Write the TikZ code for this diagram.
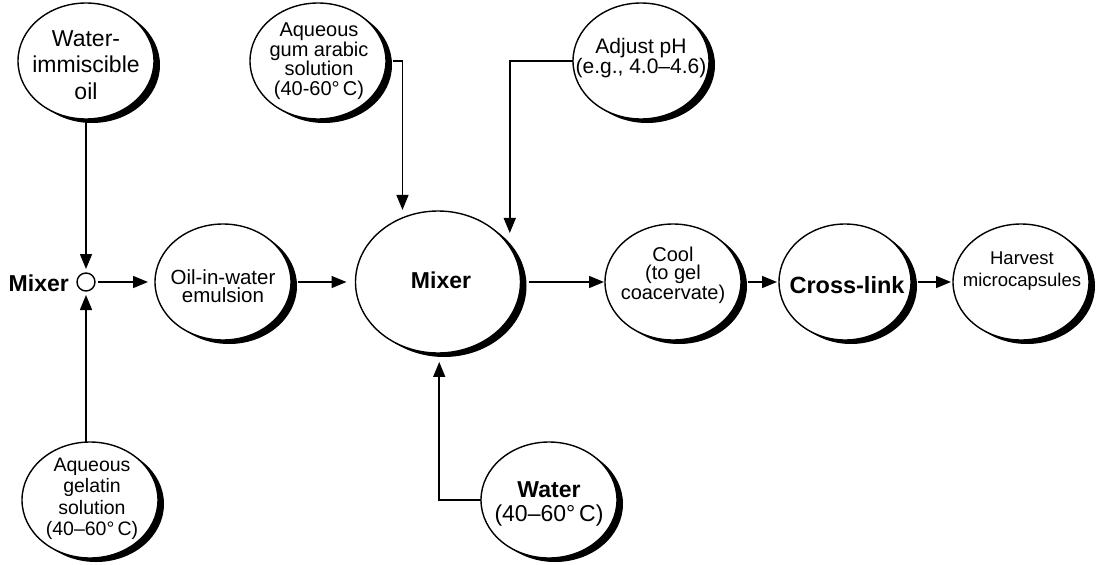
\documentclass[tikz,border=0pt]{standalone}
\usepackage{fontspec}
\setmainfont{Liberation Sans}
\usetikzlibrary{shapes.geometric,arrows.meta,shadows}
\begin{document}
\begin{tikzpicture}[x=1pt,y=-1pt,
  bub/.style={ellipse, draw, line width=1.4pt, fill=white, inner sep=0pt, outer sep=0pt,
    minimum width=136pt, minimum height=116pt,
    drop shadow={shadow xshift=6pt, shadow yshift=-4pt, fill=black, opacity=1}},
  txt/.style={align=center, inner sep=0pt},
  arr/.style={-{Triangle[length=15pt,width=12pt]}, line width=1.5pt},
  small/.style={circle, draw, line width=1.4pt, minimum size=18pt, inner sep=0pt, outer sep=0pt}]
\useasboundingbox (0,0) rectangle (1096,565);

% ellipses
\node[bub] (oil) at (86,61) {};
\node[bub] (gum) at (318,61) {};
\node[bub] (ph) at (641,61) {};
\node[small] (mx1) at (86,282) {};
\node[bub] (emul) at (223,282) {};
\node[bub, minimum width=165pt, minimum height=142pt] (mix) at (438,282) {};
\node[bub] (cool) at (673,282) {};
\node[bub, minimum width=132pt] (cross) at (845,282) {};
\node[bub] (harv) at (1021,282) {};
\node[bub] (gel) at (90,500) {};
\node[bub] (water) at (549,500) {};

% texts
\node[txt, font=\fontsize{23}{26.5}\selectfont] (oilt) at (86,65) {Water-\\immiscible\\oil};
\node[txt, font=\fontsize{20}{19.5}\selectfont] (gumt) at (319,61) {Aqueous\\gum arabic\\solution\\(40-60°\,C)};
\node[txt, font=\fontsize{21}{20.5}\selectfont] (pht) at (641,58) {Adjust pH\\(e.g., 4.0–4.6)};
\node[anchor=east, inner sep=0pt, font=\bfseries\fontsize{23}{23}\selectfont] (mxlab) at (69,283) {Mixer};
\node[txt, font=\fontsize{20.5}{18.5}\selectfont] (emult) at (223,286) {Oil-in-water\\emulsion};
\node[txt, font=\bfseries\fontsize{23}{23}\selectfont] (mixt) at (441,280) {Mixer};
\node[txt, font=\fontsize{20}{18.5}\selectfont] (coolt) at (673,275) {Cool\\(to gel\\coacervate)};
\node[txt, font=\bfseries\fontsize{23.5}{23.5}\selectfont] (crosst) at (847,285) {Cross-link};
\node[txt, font=\fontsize{18.5}{22}\selectfont] (harvt) at (1022,271) {Harvest\\microcapsules};
\node[txt, font=\fontsize{19.5}{21.5}\selectfont] (gelt) at (92,499) {Aqueous\\gelatin\\solution\\(40–60°\,C)};
\node[txt, font=\fontsize{23}{24}\selectfont] (watert) at (549,504) {\textbf{Water}\\(40–60°\,C)};

% connectors
\draw[arr, shorten >=4pt] (oil.south) -- (mx1.north);
\draw[arr, shorten >=4pt] (gel.north -| mx1.south) -- (mx1.south);
\draw[arr, shorten <=3pt, shorten >=7pt] (mx1.east) -- (emul.west);
\draw[arr, shorten <=7pt, shorten >=9pt] (emul.east) -- (mix.west);
\draw[arr, shorten <=7pt, shorten >=8pt] (gum.east) -| (mix.119);
\draw[arr, shorten >=14pt] (ph.west) -| (mix.26);
\draw[arr, shorten >=9pt] (water.west) -| (mix.-89);
\draw[arr, shorten <=8pt, shorten >=1pt] (mix.east) -- (cool.west);
\draw[arr, shorten <=7pt, shorten >=2pt] (cool.east) -- (cross.west);
\draw[arr, shorten <=7pt, shorten >=2pt] (cross.east) -- (harv.west);
\end{tikzpicture}
\end{document}
